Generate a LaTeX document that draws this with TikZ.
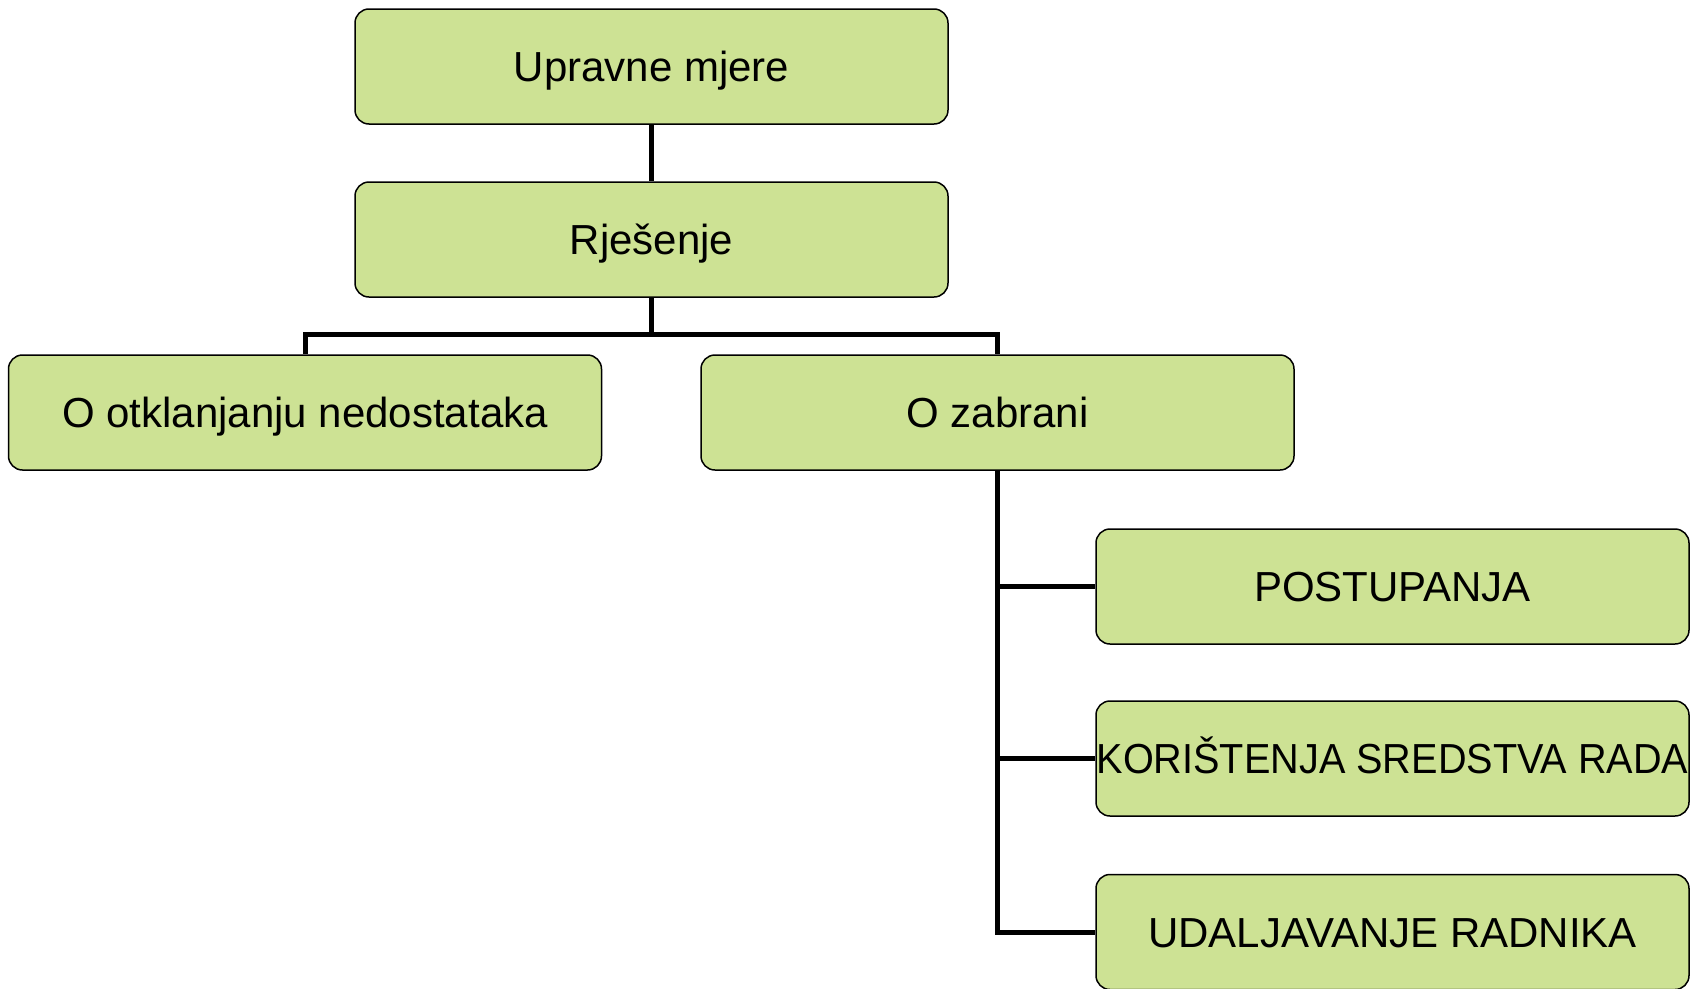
\documentclass[tikz,border=0pt]{standalone}
\usepackage{fontspec}
\setmainfont{Liberation Sans}
\definecolor{boxgreen}{RGB}{205,226,148}
\begin{document}
\begin{tikzpicture}[x=1pt,y=-1pt,
  box/.style={draw=black, line width=1.5pt, fill=boxgreen, rounded corners=14pt,
    minimum width=593pt, minimum height=115pt, inner sep=0pt,
    text height=30pt, text depth=0pt,
    font=\fontsize{42}{50}\selectfont},
  conn/.style={draw=black, line width=5pt}]
\useasboundingbox (0,0) rectangle (1702,988);
\node[box] (up) at (651.5,66.5) {Upravne mjere};
\node[box] (rj) at (651.5,239.5) {Rješenje};
\node[box] (ot) at (305,412.5) {O otklanjanju nedostataka};
\node[box] (oz) at (997.5,412.5) {O zabrani};
\node[box] (c1) at (1392.5,586.5) {POSTUPANJA};
\node[box] (c2) at (1392.5,758.5) {\scalebox{0.944}[1]{KORIŠTENJA SREDSTVA RADA}};
\node[box] (c3) at (1392.5,932) {UDALJAVANJE RADNIKA};
\path (rj.south) ++(0,37) coordinate (bus);
\draw[conn] (up.south) -- (rj.north);
\draw[conn] (rj.south) -- (bus);
\draw[conn] (bus) -| (ot.north);
\draw[conn] (bus) -| (oz.north);
\draw[conn] (oz.south) |- (c3.west);
\draw[conn] (oz.south |- c1.west) -- (c1.west);
\draw[conn] (oz.south |- c2.west) -- (c2.west);
\end{tikzpicture}
\end{document}
